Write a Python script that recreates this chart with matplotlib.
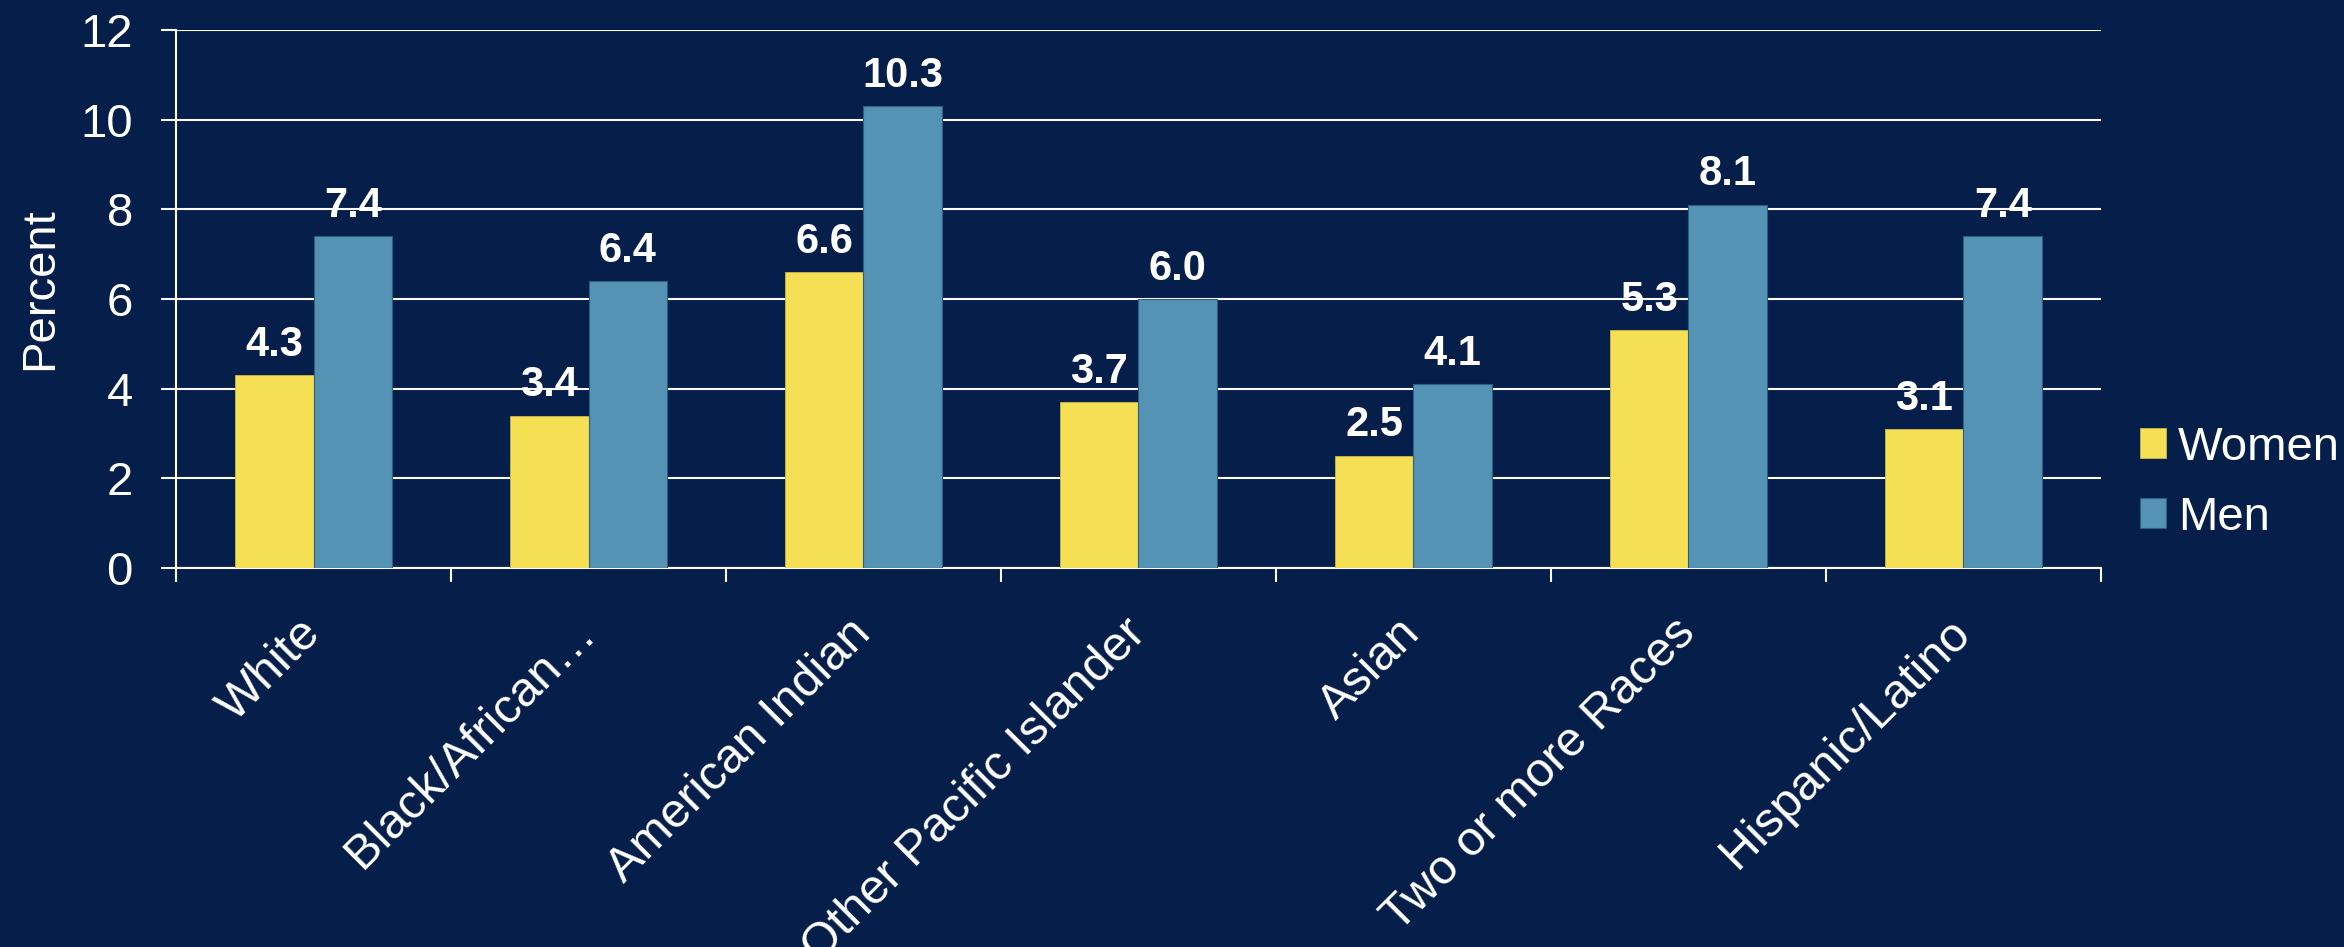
import numpy as np
import matplotlib
matplotlib.use('Agg')
import matplotlib.pyplot as plt

plt.rcParams['font.family'] = ['Liberation Sans', 'DejaVu Sans']

categories = ['White', 'Black/African…', 'American Indian', 'Other Pacific Islander',
              'Asian', 'Two or more Races', 'Hispanic/Latino']
women = [4.3, 3.4, 6.6, 3.7, 2.5, 5.3, 3.1]
men = [7.4, 6.4, 10.3, 6.0, 4.1, 8.1, 7.4]
yticks = [0, 2, 4, 6, 8, 10, 12]

bg = '#061F4A'
yellow = '#F5DF55'
blue = '#5493B3'

fig = plt.figure(figsize=(23.44, 9.47), dpi=100, facecolor=bg)
ax = fig.add_axes([0.0751, 0.4002, 0.8212, 0.5681])
ax.set_facecolor(bg)

x = np.arange(len(categories))
w = 0.2857
b1 = ax.bar(x - w / 2, women, w, color=yellow, edgecolor='#C9B84A', linewidth=0.6, label='Women', zorder=3)
b2 = ax.bar(x + w / 2, men, w, color=blue, edgecolor='#2E5E82', linewidth=0.8, label='Men', zorder=3)

# value labels above each bar
for bars, vals in ((b1, women), (b2, men)):
    for r, v in zip(bars, vals):
        ax.annotate(f'{v:.1f}', (r.get_x() + r.get_width() / 2, v), xytext=(0, 14),
                    textcoords='offset points', ha='center', va='baseline',
                    fontsize=30, fontweight='bold', color='white', zorder=4)

ax.set_ylim(0, 12)
ax.set_xlim(-0.5, len(categories) - 0.5)
ax.set_yticks(yticks)
ax.yaxis.grid(True, color='white', linewidth=1.5, zorder=1)
ax.set_axisbelow(True)
ax.tick_params(axis='y', colors='white', labelsize=34, length=11, width=1.5, direction='out', pad=20)

# major ticks on group boundaries, labels on minor ticks at group centres
ax.set_xticks(np.arange(-0.5, len(categories), 1.0))
ax.set_xticklabels([])
ax.tick_params(axis='x', which='major', colors='white', length=10, width=1.5, direction='out')
ax.set_xticks(x, minor=True)
ax.set_xticklabels(categories, minor=True, rotation=45, ha='right', va='center',
                   rotation_mode='anchor', fontsize=35, color='white')
ax.tick_params(axis='x', which='minor', length=0, pad=42)

for s in ('top', 'right'):
    ax.spines[s].set_visible(False)
for s in ('left', 'bottom'):
    ax.spines[s].set_color('white')
    ax.spines[s].set_linewidth(1.5)

ax.set_ylabel('Percent', fontsize=34, color='white')
ax.yaxis.set_label_coords(-0.0592, 0.52)

leg = fig.legend(handles=[b1, b2], labels=['Women', 'Men'], loc='center left',
                 bbox_to_anchor=(2140 / 2344, 0.49), frameon=False, fontsize=34,
                 handlelength=0.55, handleheight=0.6, handletextpad=0.25,
                 labelspacing=0.55, borderpad=0, borderaxespad=0)
for t in leg.get_texts():
    t.set_color('white')

fig.savefig('out.png', dpi=100, facecolor=bg)
